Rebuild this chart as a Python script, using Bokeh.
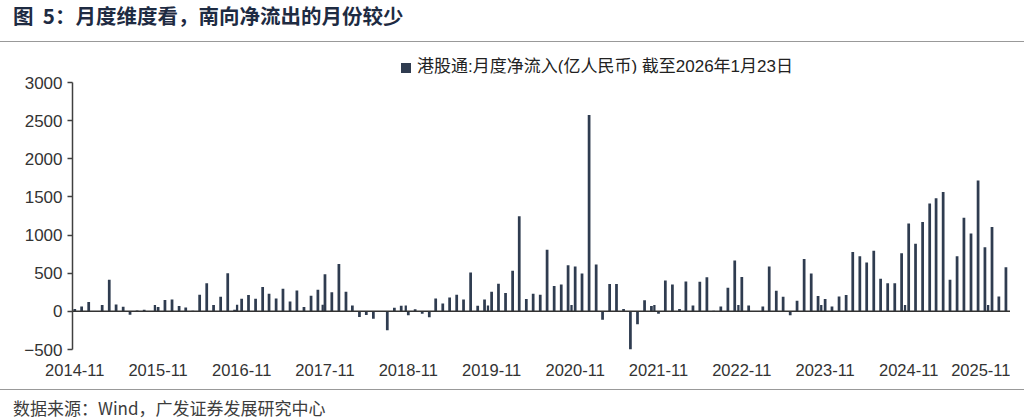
import pandas as pd
from bokeh.plotting import figure
from bokeh.models import Range1d, FixedTicker, Span, Div, DatetimeTickFormatter
from bokeh.layouts import column
from bokeh.embed import file_html
from bokeh.resources import INLINE

# ---------------- data ----------------
title_text = "图  5：月度维度看，南向净流出的月份较少"
series_name = "港股通:月度净流入(亿人民币) 截至2026年1月23日"
source_text = "数据来源：Wind，广发证券发展研究中心"

first_month = "2014-11-01"
# monthly southbound net inflow, 2014-11 ... 2026-01 (亿人民币)
flows = [
    30, 65, 122, 5, 83, 413, 91, 61, -43, 10, 20, -8,          # 2014-11 .. 2015-10
    57, 148, 157, 70, 52, 8, 218, 370, 83, 191, 500, 20,       # 2015-11 .. 2016-10
    165, 213, 165, 318, 231, 170, 296, 130, 274, 57, 204, 283, # 2016-11 .. 2017-10
    487, 252, 622, 257, 78, -74, -48, -96, -5, -248, 48, 74,   # 2017-11 .. 2018-10
    -52, 26, -30, -78, 170, 104, 183, 218, 157, 509, 74, 157,  # 2018-11 .. 2019-10
    257, 361, 239, 531, 1248, 161, 231, 218, 809, 331, 352, 605,  # 2019-11 .. 2020-10
    587, 496, 2575, 613, -109, 357, 357, 30, -500, -170, 144, 70, # 2020-11 .. 2021-10
    -30, 405, 352, 30, 392, 78, 387, 448, 9, 65, 309, 666,     # 2021-11 .. 2022-10
    452, 78, 5, 65, 587, 270, 191, -52, 139, 687, 496, 200,    # 2022-11 .. 2023-10
    161, 65, 196, 213, 779, 722, 639, 796, 426, 370, 370, 761, # 2023-11 .. 2024-10
    1153, 887, 1170, 1414, 1483, 1566, 413, 722, 1227, 1022, 1714, 840,  # 2024-11 .. 2025-10
    1105, 196, 579,                                            # 2025-11 .. 2026-01
]
# small extra points that appear mid-October each year in the source chart
extra_dates = ["2015-10-18", "2016-10-12", "2017-10-22", "2018-10-21", "2019-10-16",
               "2020-10-16", "2021-10-14", "2022-10-17", "2023-10-15", "2024-10-16",
               "2025-10-15"]
extra_flows = [83, 87, 87, 78, 78, 83, 83, 83, 83, 83, 83]

tick_months = ["2014-11", "2015-11", "2016-11", "2017-11", "2018-11", "2019-11",
               "2020-11", "2021-11", "2022-11", "2023-11", "2024-11", "2025-11"]
y_ticks = [-500, 0, 500, 1000, 1500, 2000, 2500, 3000]

# ---------------- figure ----------------
months = pd.date_range(first_month, periods=len(flows), freq="MS")
extras = pd.to_datetime(extra_dates)
day_ms = 86400000.0

BAR = "#2f3c50"
LATIN = "'Liberation Sans', 'Noto Sans CJK SC', sans-serif"
CJK = "'Noto Sans CJK SC', sans-serif"

p = figure(width=1010, height=316, x_axis_type="datetime",
           output_backend="svg", toolbar_location=None,
           x_range=Range1d(months[0] - pd.Timedelta(days=10), months[-1] + pd.Timedelta(days=20)),
           y_range=Range1d(-500, 3000),
           min_border_left=72, min_border_right=0, min_border_top=9, min_border_bottom=40)
p.outline_line_color = None
p.grid.grid_line_color = None
p.background_fill_color = "white"
p.border_fill_color = "white"

p.vbar(x=months, top=flows, bottom=0, width=12 * day_ms,
       fill_color=BAR, line_color=None)
p.vbar(x=extras, top=extra_flows, bottom=0, width=10 * day_ms,
       fill_color=BAR, line_color=None)

p.add_layout(Span(location=0, dimension="width", line_color="#333333", line_width=1.5))

yax = p.yaxis[0]
yax.ticker = FixedTicker(ticks=y_ticks)
yax.axis_line_color = "#404040"
yax.axis_line_width = 1.5
yax.major_tick_line_color = "#404040"
yax.major_tick_line_width = 1.5
yax.major_tick_out = 5
yax.major_tick_in = 0
yax.minor_tick_line_color = None
yax.major_label_standoff = 5
yax.major_label_text_font = LATIN
yax.major_label_text_font_size = "17px"
yax.major_label_text_color = "#333333"

xax = p.xaxis[0]
xax.ticker = FixedTicker(ticks=[pd.Timestamp(m + "-01").value / 1e6 for m in tick_months])
fmt = "%Y-%m"
xax.formatter = DatetimeTickFormatter(years=fmt, months=fmt, days=fmt, hours=fmt,
                                      minutes=fmt, seconds=fmt, milliseconds=fmt,
                                      microseconds=fmt, minsec=fmt, hourmin=fmt)
xax.axis_line_color = None
xax.major_tick_line_color = None
xax.minor_tick_line_color = None
xax.major_tick_out = 0
xax.major_tick_in = 0
xax.major_label_standoff = 14
xax.major_label_text_font = LATIN
xax.major_label_text_font_size = "16.5px"
xax.major_label_text_color = "#333333"

title_div = Div(text=title_text, width=1024, height=42, margin=0,
                styles={"font-family": CJK, "font-weight": "bold", "font-size": "20.5px",
                        "color": "#1e2b42", "line-height": "22px", "padding-left": "13px",
                        "padding-top": "4px", "white-space": "pre",
                        "border-bottom": "1.5px solid #999999", "box-sizing": "border-box"})

legend_html = ('<span style="display:inline-block;width:10px;height:10px;'
               'background:%s;margin-right:6px;vertical-align:middle;"></span>%s'
               % (BAR, series_name))
legend_div = Div(text=legend_html, width=1024, height=31, margin=0,
                 styles={"font-family": LATIN, "font-size": "17px", "color": "#222222",
                         "line-height": "20px", "padding-left": "401px", "padding-top": "15px",
                         "box-sizing": "border-box", "white-space": "nowrap"})

source_div = Div(text=source_text, width=1024, height=31, margin=0,
                 styles={"font-family": CJK, "font-size": "17px", "color": "#3c3c3c",
                         "line-height": "20px", "padding-left": "13px", "padding-top": "8px",
                         "border-top": "1.5px solid #999999", "box-sizing": "border-box"})

layout = column(title_div, legend_div, p, source_div, spacing=0)

open("out.html", "w").write(file_html(layout, INLINE))
